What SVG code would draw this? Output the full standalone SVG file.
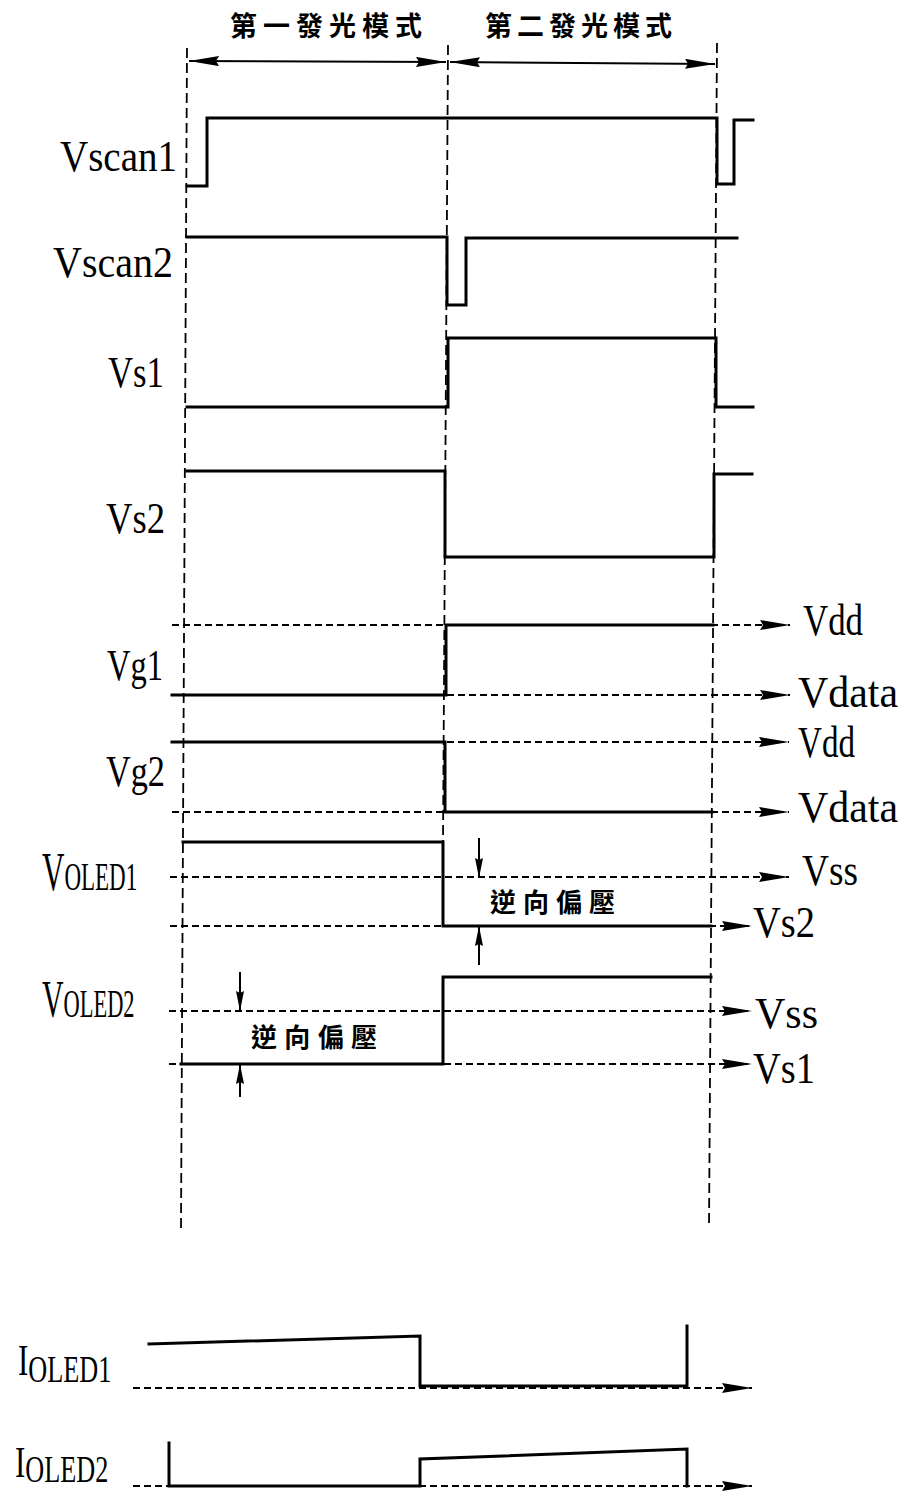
<svg xmlns="http://www.w3.org/2000/svg" width="905" height="1506" viewBox="0 0 905 1506">
<style>
.sig{fill:none;stroke:#000;stroke-width:3;stroke-linejoin:miter;stroke-linecap:square}
.ref{fill:none;stroke:#000;stroke-width:1.8;stroke-dasharray:7,4}
.grid{fill:none;stroke:#000;stroke-width:1.8;stroke-dasharray:10,5}
.dim{fill:none;stroke:#000;stroke-width:2}
.lbl{font-family:"Liberation Serif","Times New Roman",serif;fill:#000}
.cjk{font-family:"Noto Sans CJK TC","Noto Sans CJK SC",sans-serif;font-weight:700;fill:#000}
</style>
<defs>
<marker id="ah" markerUnits="userSpaceOnUse" markerWidth="32" markerHeight="12" refX="30" refY="5" orient="auto-start-reverse" viewBox="0 0 32 12">
<path d="M0,0 L30,5 L0,10 L3,5 z" fill="#000"/>
</marker>
<marker id="av" markerUnits="userSpaceOnUse" markerWidth="22" markerHeight="9" refX="20" refY="4" orient="auto" viewBox="0 0 22 9">
<path d="M0,0 L20,4 L0,8 L2,4 z" fill="#000"/>
</marker>
</defs>
<rect width="905" height="1506" fill="#fff"/>

<g id="connectors">
<line class="grid" x1="187" y1="48" x2="181" y2="1228"/>
<line class="grid" x1="448" y1="45" x2="443" y2="842"/>
<line class="grid" x1="717" y1="43" x2="709" y2="1228"/>
<line class="dim" x1="189" y1="61" x2="446" y2="62" marker-start="url(#ah)" marker-end="url(#ah)"/>
<line class="dim" x1="450" y1="62" x2="715" y2="64" marker-start="url(#ah)" marker-end="url(#ah)"/>
</g>

<g id="modes">
<text class="cjk" x="230" y="36" font-size="27" textLength="192" lengthAdjust="spacing">第一發光模式</text>
<text class="cjk" x="485" y="36" font-size="27" textLength="187" lengthAdjust="spacing">第二發光模式</text>
</g>

<g id="vscan1">
<text class="lbl" x="60" y="171" font-size="44" textLength="117" lengthAdjust="spacingAndGlyphs">Vscan1</text>
<path class="sig" d="M187,186 H207 V118 H717 V184 H734 V120 H753"/>
</g>

<g id="vscan2">
<text class="lbl" x="53" y="277" font-size="44" textLength="120" lengthAdjust="spacingAndGlyphs">Vscan2</text>
<path class="sig" d="M187,237 H447 V305 H466 V238 H737"/>
</g>

<g id="vs1">
<text class="lbl" x="108" y="387" font-size="44" textLength="56" lengthAdjust="spacingAndGlyphs">Vs1</text>
<path class="sig" d="M187,407 H448 V338 H716 V407 H753"/>
</g>

<g id="vs2">
<text class="lbl" x="106" y="533" font-size="44" textLength="59" lengthAdjust="spacingAndGlyphs">Vs2</text>
<path class="sig" d="M187,471 H445 V557 H714 V474 H752"/>
</g>

<g id="vg1">
<text class="lbl" x="107" y="680" font-size="44" textLength="56" lengthAdjust="spacingAndGlyphs">Vg1</text>
<line class="ref" x1="172" y1="625" x2="790" y2="625" marker-end="url(#ah)"/>
<line class="ref" x1="172" y1="695" x2="790" y2="695" marker-end="url(#ah)"/>
<path class="sig" d="M172,695 H446 V625 H713"/>
<text class="lbl" x="803" y="635" font-size="44" textLength="60" lengthAdjust="spacingAndGlyphs">Vdd</text>
<text class="lbl" x="798" y="707" font-size="44" textLength="100" lengthAdjust="spacingAndGlyphs">Vdata</text>
</g>

<g id="vg2">
<text class="lbl" x="106" y="786" font-size="44" textLength="59" lengthAdjust="spacingAndGlyphs">Vg2</text>
<line class="ref" x1="172" y1="742" x2="789" y2="742" marker-end="url(#ah)"/>
<line class="ref" x1="172" y1="812" x2="789" y2="812" marker-end="url(#ah)"/>
<path class="sig" d="M172,742 H445 V812 H712"/>
<text class="lbl" x="798" y="757" font-size="44" textLength="57" lengthAdjust="spacingAndGlyphs">Vdd</text>
<text class="lbl" x="798" y="822" font-size="44" textLength="100" lengthAdjust="spacingAndGlyphs">Vdata</text>
</g>

<g id="voled1">
<text class="lbl" transform="translate(42,890) scale(0.575,1)"><tspan font-size="54">V</tspan><tspan font-size="40">OLED1</tspan></text>
<line class="ref" x1="170" y1="877" x2="789" y2="877" marker-end="url(#ah)"/>
<line class="ref" x1="170" y1="926" x2="752" y2="926" marker-end="url(#ah)"/>
<path class="sig" d="M183,842 H443 V926 H711"/>
<line class="dim" x1="479" y1="838" x2="479" y2="878" marker-end="url(#av)"/>
<line class="dim" x1="479" y1="965" x2="479" y2="926" marker-end="url(#av)"/>
<text class="cjk" x="490" y="912" font-size="26" textLength="125" lengthAdjust="spacing">逆向偏壓</text>
<text class="lbl" x="802" y="885" font-size="44" textLength="56" lengthAdjust="spacingAndGlyphs">Vss</text>
<text class="lbl" x="753" y="937" font-size="44" textLength="62" lengthAdjust="spacingAndGlyphs">Vs2</text>
</g>

<g id="voled2">
<text class="lbl" transform="translate(42,1017) scale(0.575,1)"><tspan font-size="52">V</tspan><tspan font-size="39">OLED2</tspan></text>
<line class="ref" x1="169" y1="1011" x2="752" y2="1011" marker-end="url(#ah)"/>
<line class="ref" x1="169" y1="1064" x2="752" y2="1064" marker-end="url(#ah)"/>
<path class="sig" d="M181,1064 H443 V977 H711"/>
<line class="dim" x1="240" y1="972" x2="240" y2="1011" marker-end="url(#av)"/>
<line class="dim" x1="240" y1="1097" x2="240" y2="1064" marker-end="url(#av)"/>
<text class="cjk" x="251" y="1047" font-size="26" textLength="126" lengthAdjust="spacing">逆向偏壓</text>
<text class="lbl" x="755" y="1028" font-size="44" textLength="63" lengthAdjust="spacingAndGlyphs">Vss</text>
<text class="lbl" x="753" y="1083" font-size="44" textLength="62" lengthAdjust="spacingAndGlyphs">Vs1</text>
</g>

<g id="ioled1">
<text class="lbl" transform="translate(18,1375) scale(0.69,1)"><tspan font-size="45">I</tspan><tspan font-size="38" dy="7">OLED1</tspan></text>
<line class="ref" x1="133" y1="1388" x2="752" y2="1388" marker-end="url(#ah)"/>
<path class="sig" d="M149,1344 L420,1336 V1386 H687 V1326"/>
</g>

<g id="ioled2">
<text class="lbl" transform="translate(15,1477) scale(0.69,1)"><tspan font-size="45">I</tspan><tspan font-size="38" dy="5">OLED2</tspan></text>
<line class="ref" x1="133" y1="1486" x2="752" y2="1486" marker-end="url(#ah)"/>
<path class="sig" d="M169,1443 V1486 H420 V1459 L687,1449 V1486"/>
</g>
</svg>
